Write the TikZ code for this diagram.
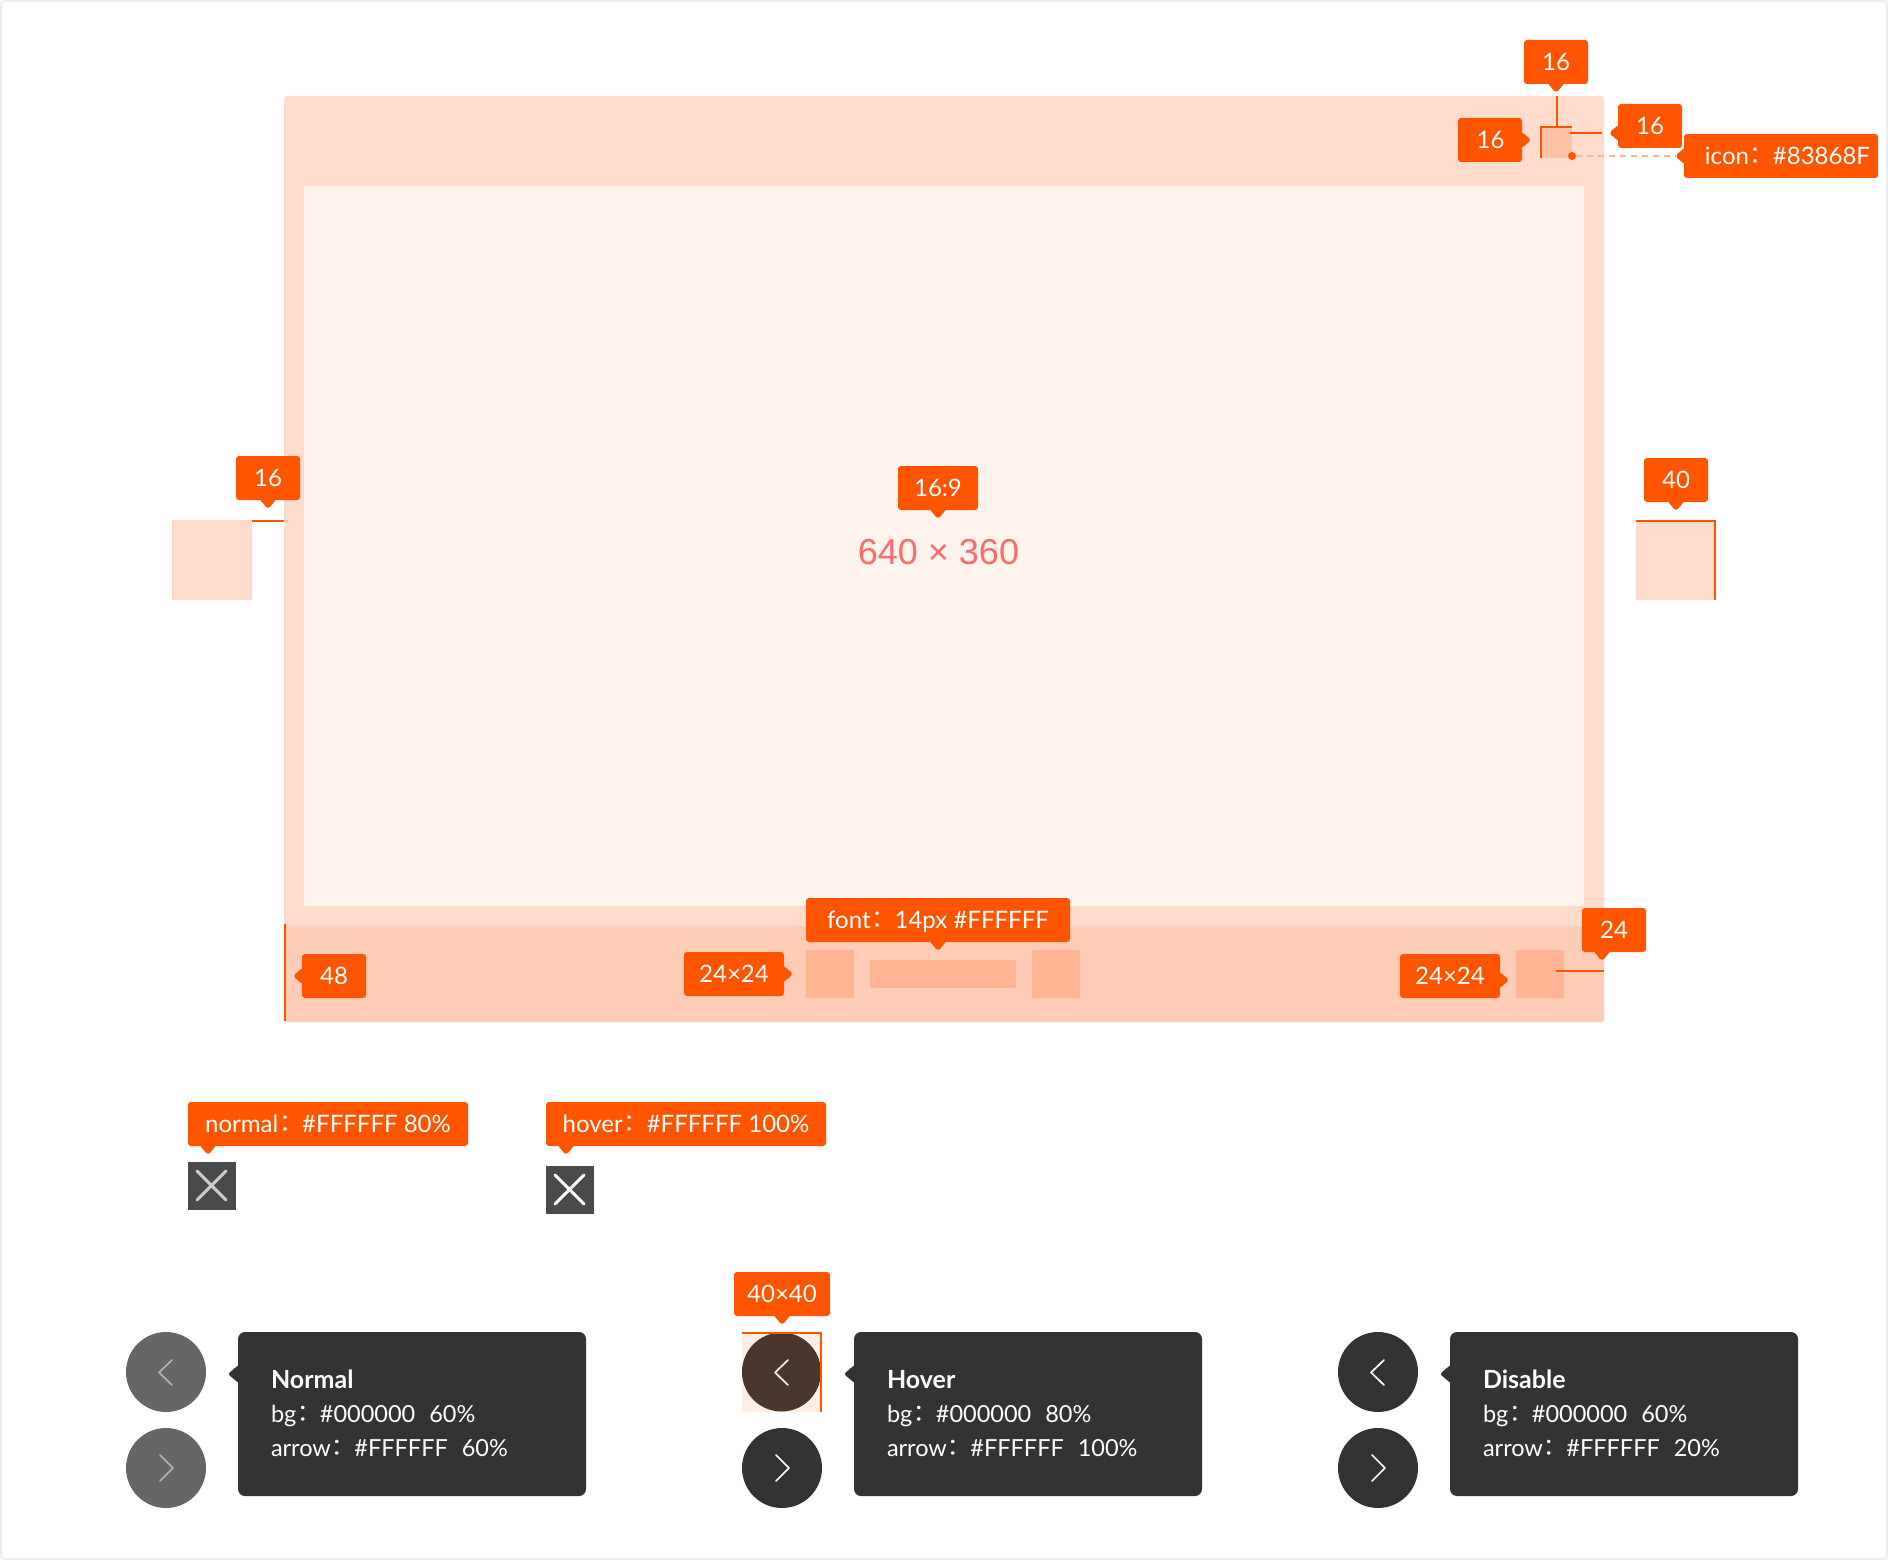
\documentclass[tikz,border=0pt]{standalone}
\usepackage{fontspec}
\setmainfont{Lato}
\newfontfamily\cjk{Noto Sans CJK TC}
\newfontfamily\helv{Liberation Sans}
\usetikzlibrary{calc,positioning}
\definecolor{tagorange}{HTML}{FF5500}
\definecolor{panelpeach}{HTML}{FFDCCC}
\definecolor{innerpeach}{HTML}{FFF3EE}
\definecolor{footerpeach}{HTML}{FFCDB6}
\definecolor{iconpeach}{HTML}{FFB592}
\definecolor{closepeach}{HTML}{FFC1A6}
\definecolor{hoverpeach}{HTML}{FFEEE6}
\definecolor{darkbox}{HTML}{333333}
\definecolor{hoverbrown}{HTML}{4A362D}
\definecolor{sizered}{HTML}{FF6A6A}
\newcommand{\fwcolon}{\kern-5pt{\cjk ：}\kern5pt\ignorespaces}
\newcommand{\boxtitle}[1]{{\fontsize{25}{34}\selectfont\bfseries\rule{0pt}{19pt}#1}}
\newcommand{\boxend}{\rule[-2.8pt]{0pt}{10pt}}
% tip of a tag, pointing down at angle 0
\newcommand{\tagtip}[2]{\fill[tagorange,shift={(#1)},rotate=#2,rounded corners=1pt] (-8,-0.5) -- (-1.5,7.5) -- (1.5,7.5) -- (8,-0.5) -- cycle;}
\newcommand{\boxtip}[1]{\fill[darkbox,shift={(#1)},rotate=-90,rounded corners=1pt] (-9,-0.5) -- (-1,9) -- (1,9) -- (9,-0.5) -- cycle;}
\begin{document}
\begin{tikzpicture}[
x=1pt, y=-1pt,
nodes = {outer sep = 0pt, inner sep = 0pt},
panel/.style={rectangle, fill=panelpeach, minimum width=1320pt, minimum height=926pt, rounded corners=3pt},
tag/.style={rectangle, fill=tagorange, rounded corners=3pt, minimum height=44pt, text=white, text height=17pt, text depth=0pt, font=\fontsize{24}{28}\selectfont},
block/.style={rectangle, fill=#1, minimum width=48pt, minimum height=48pt},
roundbtn/.style={circle, fill=#1, minimum size=80pt},
chevron/.style={line width=1.7pt, line cap=round, line join=round},
closebtn/.style={rectangle, fill=black!71, minimum size=48pt, minimum height=48pt},
dimline/.style={draw=tagorange, line width=2pt},
infobox/.style={rectangle, fill=darkbox, rounded corners=7pt, minimum width=348pt, minimum height=164pt, text=white, align=left, text width=282pt, inner xsep=0pt, font=\fontsize{23.5}{34}\selectfont}
]
\useasboundingbox (0,0) rectangle (1888,1560);
\fill[white] (0,0) rectangle (1888,1560);
\draw[black!7, line width=2pt, rounded corners=4pt] (1,1) rectangle (1887,1559);

%Nodes
\node[panel] (panel) at (944,559) {};
\fill[footerpeach] (284,926) -- (1604,926) [rounded corners=3pt] -- (1604,1022) -- (284,1022) [sharp corners] -- cycle;
\node[rectangle, fill=innerpeach, minimum width=1280pt, minimum height=720pt] (video) at (944,546) {};
\node[font=\helv\fontsize{36}{40}\selectfont, text=sizered] (videosize) at (938.5,552) {640 × 360};
\node[tag, minimum width=80pt] (ratiotag) at (938,488) {16:9};
\tagtip{ratiotag.south}{0}

% close icon, top right
\node[rectangle, fill=closepeach, minimum size=32pt] (closeicon) at (1556,142) {};
\node[tag, minimum width=64pt] (closetop) at (1556,62) {16};
\tagtip{closetop.south}{0}
\node[tag, minimum width=64pt] (closeleft) at (1490,140) {\kern1pt 16};
\tagtip{closeleft.east}{90}
\node[tag, minimum width=64pt] (closeright) at (1650,126) {16};
\tagtip{[yshift=-7pt]closeright.west}{-90}
\coordinate (closegap) at (1570,133);
\node[tag, minimum width=194pt] (icontag) at (1781,156) {\kern13pt icon\fwcolon \#83868F};
\tagtip{icontag.west}{-90}
\node[circle, fill=tagorange, minimum size=8pt] (icondot) at (1572,156) {};

% side squares
\node[rectangle, fill=panelpeach, minimum size=80pt] (prevsquare) at (212,560) {};
\node[tag, minimum width=64pt] (prevtag) at (268,478) {16};
\tagtip{prevtag.south}{0}
\node[rectangle, fill=panelpeach, minimum size=80pt] (nextsquare) at (1676,560) {};
\node[tag, minimum width=64pt] (nexttag) at (1676,480) {40};
\tagtip{nexttag.south}{0}

% footer
\coordinate (footertop) at (285,924);
\coordinate (footerbot) at (285,1021);
\node[tag, minimum width=64pt] (heighttag) at (334,976) {48};
\tagtip{heighttag.west}{-90}
\node[block=iconpeach] (footleft) at (830,974) {};
\node[rectangle, fill=iconpeach, minimum width=146pt, minimum height=28pt] (footbar) at (943,974) {};
\node[block=iconpeach] (footright) at (1056,974) {};
\node[tag, minimum width=100pt] (leftsize) at (734,974) {24×24};
\tagtip{leftsize.east}{90}
\node[tag, minimum width=264pt] (fonttag) at (938,920) {font\fwcolon 14px \#FFFFFF};
\tagtip{fonttag.south}{0}
\node[block=iconpeach] (footend) at (1540,974) {};
\node[tag, minimum width=100pt] (rightsize) at (1450,976) {24×24};
\tagtip{[yshift=-4pt]rightsize.east}{90}
\node[tag, minimum width=64pt] (marginblock) at (1614,930) {24};
\tagtip{[xshift=-12pt]marginblock.south}{0}
\coordinate (margingap) at (1556,971);

% close buttons
\node[tag, minimum width=280pt] (normaltag) at (328,1124) {normal\fwcolon \#FFFFFF 80\%};
\tagtip{[xshift=-120pt]normaltag.south}{0}
\node[closebtn] (closenormal) at (212,1186) {};
\node[tag, minimum width=280pt] (hovertag) at (686,1124) {hover\fwcolon \#FFFFFF 100\%};
\tagtip{[xshift=-120pt]hovertag.south}{0}
\node[closebtn] (closehover) at (570,1190) {};
\draw[black!20, chevron, line width=3pt] (197,1171) -- (226,1200) (226,1171) -- (197,1200);
\draw[white, chevron, line width=3pt] (555,1175) -- (584,1204) (584,1175) -- (555,1204);

% arrow buttons
\node[roundbtn=black!60] (normalprev) at (166,1372) {};
\node[roundbtn=black!60] (normalnext) [below=16pt of normalprev] {};
\node[infobox] (normalbox) at (412,1414) {\boxtitle{Normal}\\bg\fwcolon \#000000\hspace{14pt}60\%\\arrow\fwcolon \#FFFFFF\hspace{14pt}60\%\boxend};
\boxtip{normalbox.west |- 0,1374}

\node[rectangle, fill=hoverpeach, minimum size=80pt] (hoversquare) at (782,1372) {};
\node[tag, minimum width=96pt] (hoversize) at (782,1294) {40×40};
\tagtip{hoversize.south}{0}
\node[circle, fill=hoverbrown, minimum size=79pt] (hoverprev) at (781.5,1372) {};
\node[roundbtn=darkbox] (hovernext) at (782,1468) {};
\node[infobox] (hoverbox) at (1028,1414) {\boxtitle{Hover}\\bg\fwcolon \#000000\hspace{14pt}80\%\\arrow\fwcolon \#FFFFFF\hspace{14pt}100\%\boxend};
\boxtip{hoverbox.west |- 0,1374}

\node[roundbtn=darkbox] (disableprev) at (1378,1372) {};
\node[roundbtn=darkbox] (disablenext) [below=16pt of disableprev] {};
\node[infobox] (disablebox) at (1624,1414) {\boxtitle{Disable}\\bg\fwcolon \#000000\hspace{14pt}60\%\\arrow\fwcolon \#FFFFFF\hspace{14pt}20\%\boxend};
\boxtip{disablebox.west |- 0,1374}

% chevrons
\foreach \cx/\cc in {166/black!30, 782/black!5, 1378/white}{
\draw[chevron, draw=\cc] (\cx+6,1360) -- (\cx-7,1372.5) -- (\cx+6,1385);
}
\foreach \cx/\cc in {166/black!30, 782/white, 1378/white}{
\draw[chevron, draw=\cc] (\cx-6,1455) -- (\cx+7,1468) -- (\cx-6,1481);
}

%Lines
\draw[dimline] ([xshift=1pt]closeicon.north) -- ([xshift=1pt]closeicon.north |- panel.north);
\draw[dimline] ([xshift=1pt]closeicon.south west) -- ([shift={(1pt,-1pt)}]closeicon.north west) -- ([yshift=-1pt]closeicon.north east);
\draw[dimline] (closegap) -- ([xshift=-2pt]closegap -| panel.east);
\draw[draw=iconpeach, line width=1.5pt, dash pattern=on 6pt off 5pt] (icondot) -- ([xshift=-8pt]icontag.west);
\draw[dimline] ([yshift=-1pt]prevsquare.north east) -- ([yshift=-1pt]prevsquare.north east -| panel.west);
\draw[dimline] ([yshift=-1pt]nextsquare.north west) -- ([shift={(-1pt,-1pt)}]nextsquare.north east) -- ([xshift=-1pt]nextsquare.south east);
\draw[dimline] (footertop) -- (footerbot);
\draw[dimline] (margingap) -- (margingap -| panel.east);
\draw[dimline] ([yshift=-1pt]hoversquare.north west) -- ([shift={(-1pt,-1pt)}]hoversquare.north east) -- ([xshift=-1pt]hoversquare.south east);

\end{tikzpicture}
\end{document}
